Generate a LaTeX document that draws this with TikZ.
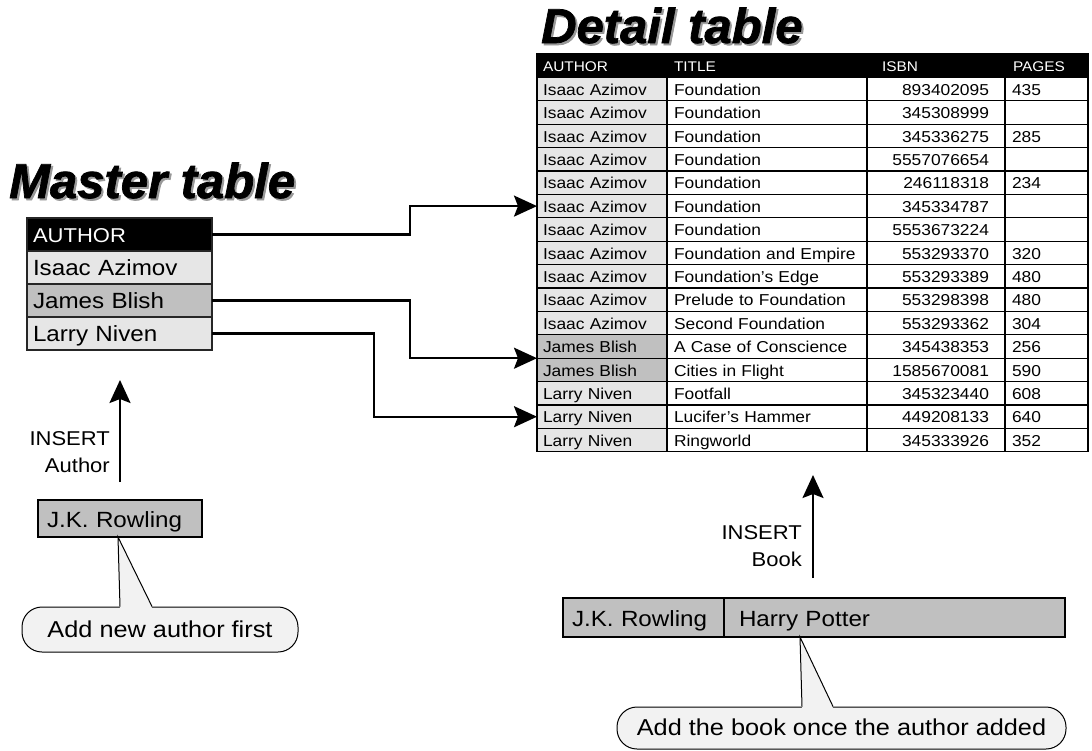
\documentclass[tikz,border=0pt]{standalone}
\usepackage{fontspec}
\setmainfont{Liberation Sans}[FakeStretch=1.1]
\newfontfamily\titlefont{Liberation Sans Bold Italic}[FakeBold=1.5]
\usetikzlibrary{arrows.meta, calc, positioning}

\definecolor{lightcell}{RGB}{230,230,230}
\definecolor{darkcell}{RGB}{192,192,192}
\definecolor{notefill}{RGB}{242,242,242}

\tikzset{
  title/.style={anchor=base west, inner sep=0pt, font=\titlefont\fontsize{49}{55}\selectfont},
  mcell/.style={draw=black!85, line width=1.5pt, outer sep=0pt, anchor=north west,
    minimum height=33pt, text width=173pt, inner xsep=6pt, inner ysep=0pt, align=left,
    text height=19pt, text depth=2.6pt, font=\fontsize{22}{26}\selectfont},
  dcell/.style={draw=black, line width=1.2pt, outer sep=0pt, anchor=north west,
    minimum height=23.4pt, inner ysep=0pt, text height=14pt, text depth=1.5pt,
    font=\fontsize{15.8}{18}\selectfont},
  acol/.style={text width=118pt, inner xsep=6pt, align=left},
  tcol/.style={text width=186pt, inner xsep=7pt, align=left},
  scol/.style={text width=106pt, inner xsep=16pt, align=right},
  pcol/.style={text width=69pt, inner xsep=7pt, align=left},
  dhead/.style={fill=black, text=white, font=\fontsize{14}{16}\selectfont},
  entry/.style={draw=black, line width=2pt, fill=darkcell, outer sep=0pt, anchor=north west,
    inner ysep=0pt, align=left, text height=19pt, text depth=1pt,
    font=\fontsize{22}{26}\selectfont},
  note/.style={draw=black, line width=1pt, fill=notefill, rounded corners=20pt,
    inner sep=0pt, text height=17pt, text depth=2pt, font=\fontsize{23}{27}\selectfont},
  conn/.style={line width=2.2pt, -{Stealth[length=23pt,width=21pt,inset=4pt]}},
  ins/.style={align=right, inner sep=0pt, font=\fontsize{20}{27}\selectfont}
}

\begin{document}
\begin{tikzpicture}[x=1pt, y=-1pt]
  \useasboundingbox (0,0) rectangle (1092,750);

  % titles with their shadows
  \node[title, text=black!40] (mshadow) at (11,200) {Master table};
  \node[title] (mtitle) at (9,198) {Master table};
  \node[title, text=black!40] (dshadow) at (543,45) {Detail table};
  \node[title] (dtitle) at (541,43) {Detail table};

  % master table
  \node[mcell, fill=black, text=white, font=\fontsize{20}{24}\selectfont] (mhead) at (27,218) {AUTHOR};
  \node[mcell, fill=lightcell] (m1) at (mhead.south west) {Isaac Azimov};
  \node[mcell, fill=darkcell] (m2) at (m1.south west) {James Blish};
  \node[mcell, fill=lightcell] (m3) at (m2.south west) {Larry Niven};

  % detail table
  \node[dcell, dhead, acol] (ha) at (537,54) {AUTHOR};
  \node[dcell, dhead, tcol] (ht) at (ha.north east) {TITLE};
  \node[dcell, dhead, text width=108pt, inner xsep=15pt, align=left] (hs) at (ht.north east) {ISBN};
  \node[dcell, dhead, text width=67pt, inner xsep=8pt, align=left] (hp) at (hs.north east) {PAGES};
  \foreach \au/\ti/\isbn/\pg/\shade [count=\k] in {
    Isaac Azimov/Foundation/893402095/435/lightcell,
    Isaac Azimov/Foundation/345308999//lightcell,
    Isaac Azimov/Foundation/345336275/285/lightcell,
    Isaac Azimov/Foundation/5557076654//lightcell,
    Isaac Azimov/Foundation/246118318/234/lightcell,
    Isaac Azimov/Foundation/345334787//lightcell,
    Isaac Azimov/Foundation/5553673224//lightcell,
    Isaac Azimov/Foundation and Empire/553293370/320/lightcell,
    Isaac Azimov/Foundation’s Edge/553293389/480/lightcell,
    Isaac Azimov/Prelude to Foundation/553298398/480/lightcell,
    Isaac Azimov/Second Foundation/553293362/304/lightcell,
    James Blish/A Case of Conscience/345438353/256/darkcell,
    James Blish/Cities in Flight/1585670081/590/darkcell,
    Larry Niven/Footfall/345323440/608/lightcell,
    Larry Niven/Lucifer’s Hammer/449208133/640/lightcell,
    Larry Niven/Ringworld/345333926/352/lightcell}{
    \node[dcell, acol, fill=\shade] (a\k) at (537,{77.4+23.4*(\k-1)}) {\au};
    \node[dcell, tcol] (t\k) at (a\k.north east) {\ti};
    \node[dcell, scol] (s\k) at (t\k.north east) {\isbn};
    \node[dcell, pcol] (p\k) at (s\k.north east) {\pg};
  }

  % master to detail
  \draw[conn] (mhead.east) -- ++(198,0) |- (a6.west);
  \draw[conn] (m2.east) -- ++(198,0) |- (a12.south west);
  \draw[conn] (m3.east) -- ++(162,0) |- (a15.west);

  % new author
  \node[entry, minimum width=164pt, minimum height=37pt, text width=146pt, inner xsep=9pt] (jk) at (38,500) {J.K. Rowling};
  \coordinate (upA) at ([yshift=18pt]jk.north);
  \draw[conn] (upA) -- ++(0,-102);
  \node[ins, anchor=east] (insA) at (110,452) {INSERT\\Author};
  \node[note, minimum width=276pt, minimum height=45pt] (note1) at (160,629.5) {Add new author first};
  \fill[notefill] ([xshift=-2pt]jk.south) -- ($(note1.north)+(-40,1.5)$) -- ($(note1.north)+(-8,1.5)$) -- cycle;
  \draw[line width=1pt] ($(note1.north)+(-40,0)$) -- ([xshift=-2pt]jk.south) -- ($(note1.north)+(-8,0)$);

  % new book
  \node[entry, minimum width=161pt, minimum height=39pt, text width=143pt, inner xsep=9pt] (bk1) at (563,598) {J.K. Rowling};
  \node[entry, minimum width=341pt, minimum height=39pt, text width=311pt, inner xsep=15pt] (bk2) at (bk1.north east) {Harry Potter};
  \coordinate (upB) at (813,578);
  \draw[conn] (upB) -- ++(0,-103);
  \node[ins, anchor=east] (insB) at (802,546) {INSERT\\Book};
  \node[note, minimum width=449pt, minimum height=42pt] (note2) at (841.5,728) {Add the book once the author added};
  \fill[notefill] ($(bk2.south west)+(76,0)$) -- ($(note2.north)+(-39.5,1.5)$) -- ($(note2.north)+(-8.5,1.5)$) -- cycle;
  \draw[line width=1pt] ($(note2.north)+(-39.5,0)$) -- ($(bk2.south west)+(76,0)$) -- ($(note2.north)+(-8.5,0)$);
\end{tikzpicture}
\end{document}
